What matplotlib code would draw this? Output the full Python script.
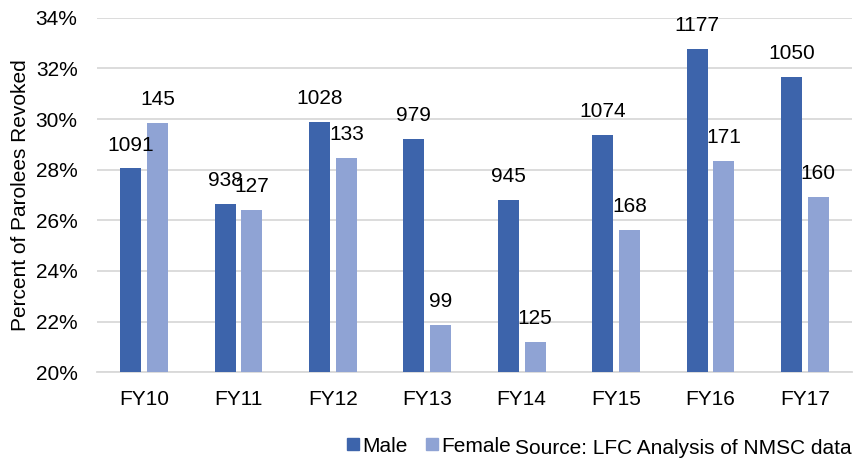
import matplotlib
matplotlib.use("Agg")
import matplotlib.pyplot as plt
import numpy as np
from matplotlib.patches import Patch

categories = ["FY10", "FY11", "FY12", "FY13", "FY14", "FY15", "FY16", "FY17"]
male_pct = [28.05, 26.63, 29.87, 29.21, 26.79, 29.36, 32.76, 31.65]
female_pct = [29.83, 26.40, 28.46, 21.88, 21.20, 25.61, 28.34, 26.92]
male_counts = [1091, 938, 1028, 979, 945, 1074, 1177, 1050]
female_counts = [145, 127, 133, 99, 125, 168, 171, 160]
yticks = [20, 22, 24, 26, 28, 30, 32, 34]

plt.rcParams['font.family'] = ['Liberation Sans', 'DejaVu Sans']
male_color = "#3D64AB"
female_color = "#8FA3D4"
fs = 15

fig = plt.figure(figsize=(8.62, 4.62), dpi=100)
ax = fig.add_axes([97/862, 1 - 372.3/462, 755/862, (372.3 - 17.7)/462])

x = np.arange(len(categories))
w = 0.222
off = 0.142
ax.bar(x - off, male_pct, w, color=male_color, zorder=3)
ax.bar(x + off, female_pct, w, color=female_color, zorder=3)

ax.set_ylim(20, 34)
ax.set_xlim(-0.5, len(categories) - 0.5)
ax.set_yticks(yticks)
ax.set_yticklabels([f"{t}%" for t in yticks], fontsize=fs)
ax.set_xticks(x)
ax.set_xticklabels(categories, fontsize=fs)
ax.tick_params(axis='y', length=0, pad=14)
ax.tick_params(axis='x', length=0, pad=13)
ax.grid(axis='y', color='#D9D9D9', linewidth=1.3, zorder=0)
for s in ['top', 'right', 'left']:
    ax.spines[s].set_visible(False)
ax.spines['bottom'].set_color('#D9D9D9')
ax.spines['bottom'].set_linewidth(1.3)
ax.set_ylabel("Percent of Parolees Revoked", fontsize=fs, labelpad=4)

for xi, v, c in zip(x - off, male_pct, male_counts):
    ax.annotate(str(c), (xi, v), xytext=(0, 10), textcoords='offset points',
                ha='center', va='bottom', fontsize=fs, zorder=4)
for xi, v, c in zip(x + off, female_pct, female_counts):
    ax.annotate(str(c), (xi, v), xytext=(0, 10), textcoords='offset points',
                ha='center', va='bottom', fontsize=fs, zorder=4)

handles = [Patch(color=male_color, label="Male"), Patch(color=female_color, label="Female")]
fig.legend(handles=handles, loc='center left', bbox_to_anchor=(347/862, 1 - 446/462),
           ncol=2, frameon=False, fontsize=fs, handlelength=0.6, handleheight=0.55,
           handletextpad=0.15, columnspacing=0.85, borderpad=0, borderaxespad=0)
fig.text(515/862, 1 - 449/462, "Source: LFC Analysis of NMSC data", fontsize=fs,
         ha='left', va='center')

fig.savefig("out.png", dpi=100)
